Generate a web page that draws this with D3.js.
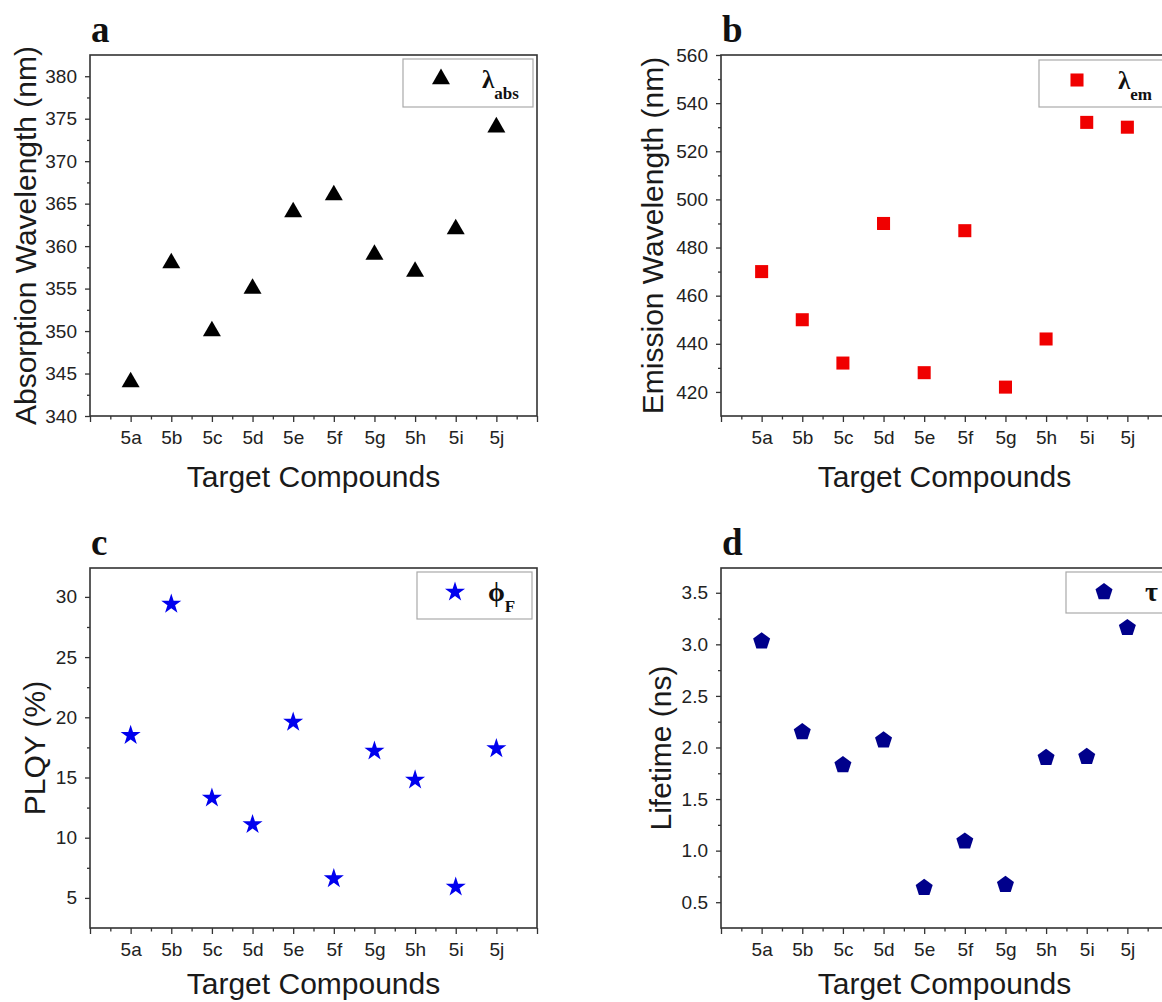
<!DOCTYPE html>
<html>
<head>
<meta charset="utf-8">
<title>Photophysical properties of 5a-5j</title>
<script src="https://cdn.jsdelivr.net/npm/d3@7"></script>
<style>
  body { margin: 0; background: #fff; }
  svg { display: block; }
  .axis text { font-family: "Liberation Sans", Arial, sans-serif; font-size: 19px; fill: #222; }
  .axis line { stroke: #333; stroke-width: 1.3; }
  .title { font-family: "Liberation Sans", Arial, sans-serif; font-size: 30px; fill: #1a1a1a; }
  .plabel { font-family: "Liberation Serif", "Times New Roman", serif; font-weight: bold; font-size: 37px; fill: #111; }
  .legtext { font-family: "Liberation Serif", "Times New Roman", serif; font-weight: bold; fill: #111; }
</style>
</head>
<body>
<svg id="chart" width="1162" height="1002"></svg>
<script>
// compounds on the x axis
var compounds = ["5a", "5b", "5c", "5d", "5e", "5f", "5g", "5h", "5i", "5j"];

// values
var absWavelength = [344, 358, 350, 355, 364, 366, 359, 357, 362, 374];
var emWavelength = [470, 450, 432, 490, 428, 487, 422, 442, 532, 530];
var plqy = [18.5, 29.4, 13.3, 11.1, 19.6, 6.6, 17.2, 14.8, 5.9, 17.4];
var lifetime = [3.03, 2.15, 1.83, 2.07, 0.64, 1.09, 0.67, 1.90, 1.91, 3.16];

// y tick labels
var absTicks = [340, 345, 350, 355, 360, 365, 370, 375, 380];
var emTicks = [420, 440, 460, 480, 500, 520, 540, 560];
var plqyTicks = [5, 10, 15, 20, 25, 30];
var lifetimeTicks = [0.5, 1.0, 1.5, 2.0, 2.5, 3.0, 3.5];

// d3 has no pentagon, so make one
var symbolPentagon = {
  draw: function(context, size) {
    var r = Math.sqrt(size / 2.3776);
    for (var i = 0; i < 5; i++) {
      var a = -Math.PI / 2 + i * 2 * Math.PI / 5;
      if (i === 0) context.moveTo(r * Math.cos(a), r * Math.sin(a));
      else context.lineTo(r * Math.cos(a), r * Math.sin(a));
    }
    context.closePath();
  }
};

var panels = [
  { name: "a", left: 90, top: 55, bottom: 416, values: absWavelength, domain: [340, 382.5],
    ticks: absTicks, minor: 2.5, fmt: d3.format("d"), title: "Absorption Wavelength (nm)", titleOff: 54,
    symbol: d3.symbolTriangle, size: 140, color: "#000",
    leg: { x: 403, y: 59, w: 130, h: 48, sym: "\u03bb", sub: "abs", tx: 79, fs: 25 } },
  { name: "b", left: 721, top: 55, bottom: 416, values: emWavelength, domain: [410, 560],
    ticks: emTicks, minor: 10, fmt: d3.format("d"), title: "Emission Wavelength (nm)", titleOff: 58,
    symbol: d3.symbolSquare, size: 170, color: "#f00000",
    leg: { x: 1039, y: 60, w: 140, h: 47, sym: "\u03bb", sub: "em", tx: 79, fs: 25 } },
  { name: "c", left: 90, top: 568, bottom: 928, values: plqy, domain: [2.5, 32.4],
    ticks: plqyTicks, minor: 2.5, fmt: d3.format("d"), title: "PLQY (%)", titleOff: 45,
    symbol: d3.symbolStar, size: 125, color: "#0000ee",
    leg: { x: 417, y: 572, w: 115, h: 47, sym: "\u03d5", sub: "F", tx: 71, fs: 27 } },
  { name: "d", left: 721, top: 568, bottom: 928, values: lifetime, domain: [0.25, 3.74],
    ticks: lifetimeTicks, minor: 0.25, fmt: d3.format(".1f"), title: "Lifetime (ns)", titleOff: 50,
    symbol: symbolPentagon, size: 190, color: "#00008b",
    leg: { x: 1066, y: 572, w: 110, h: 41, sym: "\u03c4", sub: "", tx: 79, fs: 28 } }
];

var plotWidth = 447;
var svg = d3.select("#chart");
svg.append("rect").attr("width", 1162).attr("height", 1002).attr("fill", "#fff");

panels.forEach(function(p) {
  var right = p.left + plotWidth;
  var x = d3.scaleLinear().domain([0, 11]).range([p.left, right]);
  var y = d3.scaleLinear().domain(p.domain).range([p.bottom, p.top]);
  var g = svg.append("g");

  // x axis, major + minor ticks
  var xAxis = d3.axisBottom(x).tickValues(d3.range(0, 12)).tickSize(6).tickPadding(9)
    .tickFormat(function(i) { return (i >= 1 && i <= 10) ? compounds[i - 1] : ""; });
  g.append("g").attr("class", "axis").attr("transform", "translate(0," + p.bottom + ")")
    .call(xAxis).call(function(s) { s.select(".domain").remove(); });
  g.append("g").attr("class", "axis").attr("transform", "translate(0," + p.bottom + ")")
    .call(d3.axisBottom(x).tickValues(d3.range(0.5, 11, 1)).tickSize(3.5).tickFormat(""))
    .call(function(s) { s.select(".domain").remove(); });

  // y axis
  var yAxis = d3.axisLeft(y).tickValues(p.ticks).tickSize(5).tickPadding(8).tickFormat(p.fmt);
  g.append("g").attr("class", "axis").attr("transform", "translate(" + p.left + ",0)")
    .call(yAxis).call(function(s) { s.select(".domain").remove(); });
  var minorTicks = d3.range(p.ticks[0] - p.minor, p.domain[1], p.minor * 2)
    .filter(function(v) { return v > p.domain[0] && v < p.domain[1]; });
  g.append("g").attr("class", "axis").attr("transform", "translate(" + p.left + ",0)")
    .call(d3.axisLeft(y).tickValues(minorTicks).tickSize(3).tickFormat(""))
    .call(function(s) { s.select(".domain").remove(); });

  // frame
  g.append("rect").attr("x", p.left).attr("y", p.top)
    .attr("width", plotWidth).attr("height", p.bottom - p.top)
    .attr("fill", "none").attr("stroke", "#333").attr("stroke-width", 1.6);

  // points
  g.selectAll("path.pt").data(p.values).enter().append("path")
    .attr("class", "pt")
    .attr("transform", function(d, i) { return "translate(" + x(i + 1) + "," + y(d) + ")"; })
    .attr("d", d3.symbol().type(p.symbol).size(p.size))
    .attr("fill", p.color);

  // legend
  var L = p.leg;
  g.append("rect").attr("x", L.x).attr("y", L.y).attr("width", L.w).attr("height", L.h)
    .attr("fill", "#fff").attr("stroke", "#aaa").attr("stroke-width", 1.2);
  g.append("path").attr("transform", "translate(" + (L.x + 38) + "," + (L.y + 20) + ")")
    .attr("d", d3.symbol().type(p.symbol).size(p.size)).attr("fill", p.color);
  var lt = g.append("text").attr("class", "legtext").attr("x", L.x + L.tx).attr("y", L.y + 29)
    .style("font-size", L.fs + "px").text(L.sym);
  if (L.sub) lt.append("tspan").attr("dy", 11).style("font-size", "17px").text(L.sub);

  // titles
  g.append("text").attr("class", "title").attr("text-anchor", "middle")
    .attr("x", (p.left + right) / 2).attr("y", Math.min(p.bottom + 71, 994)).text("Target Compounds");
  g.append("text").attr("class", "title").attr("text-anchor", "middle")
    .attr("transform", "translate(" + (p.left - p.titleOff) + "," + ((p.top + p.bottom) / 2) + ") rotate(-90)")
    .text(p.title);

  // panel letter
  g.append("text").attr("class", "plabel").attr("x", p.left + 1).attr("y", p.top - 13).text(p.name);
});
</script>
</body>
</html>
